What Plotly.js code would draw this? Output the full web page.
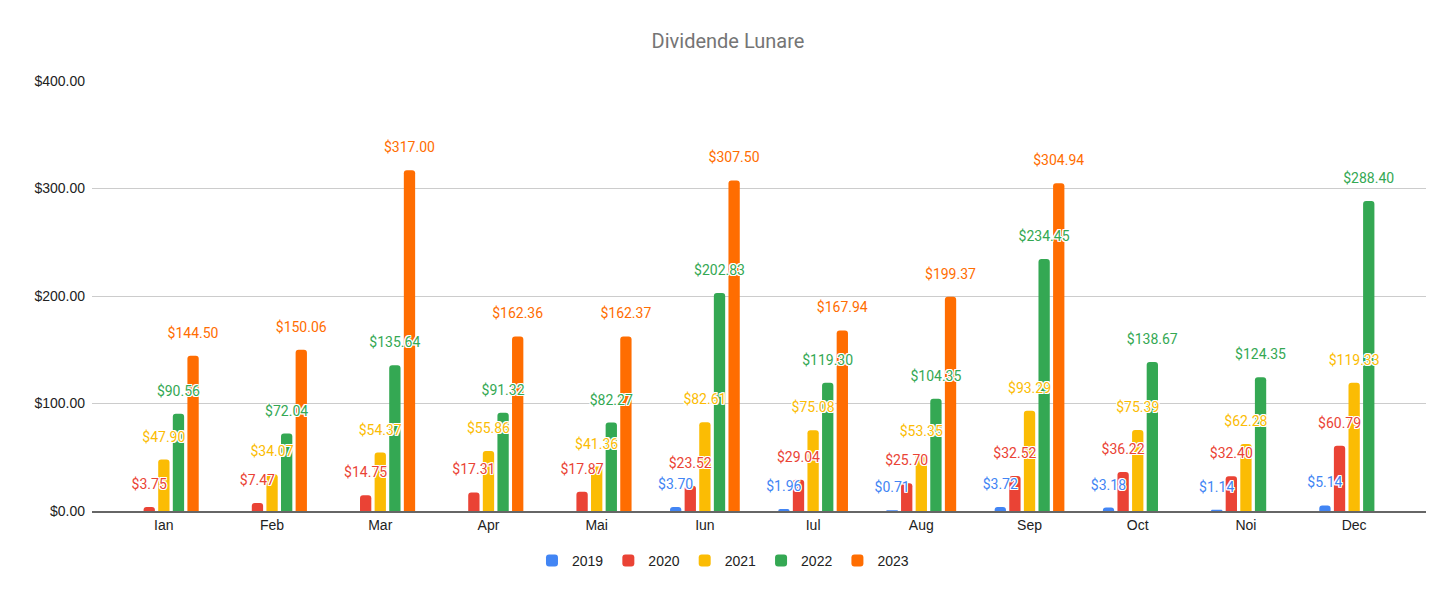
<!DOCTYPE html>
<html>
<head>
<meta charset="utf-8">
<script src="https://cdn.plot.ly/plotly-3.0.1.min.js"></script>
<style>
  html, body { margin: 0; padding: 0; background: #fff; }
  #chart { width: 1456px; height: 598px; }
</style>
</head>
<body>
<div id="chart"></div>
<script>
const months = ["Ian", "Feb", "Mar", "Apr", "Mai", "Iun", "Iul", "Aug", "Sep", "Oct", "Noi", "Dec"];
const years = ["2019", "2020", "2021", "2022", "2023"];

const y2019 = [null, null, null, null, null, 3.70, 1.96, 0.71, 3.72, 3.18, 1.14, 5.14];
const y2020 = [3.75, 7.47, 14.75, 17.31, 17.87, 23.52, 29.04, 25.70, 32.52, 36.22, 32.40, 60.79];
const y2021 = [47.90, 34.07, 54.37, 55.86, 41.36, 82.61, 75.08, 53.35, 93.29, 75.39, 62.28, 119.33];
const y2022 = [90.56, 72.04, 135.64, 91.32, 82.27, 202.83, 119.30, 104.35, 234.45, 138.67, 124.35, 288.40];
const y2023 = [144.50, 150.06, 317.00, 162.36, 162.37, 307.50, 167.94, 199.37, 304.94, null, null, null];

const series = [y2019, y2020, y2021, y2022, y2023];
const colors = ["#4285F4", "#EA4335", "#FBBC04", "#34A853", "#FF6D01"];

const halo = "-1px -1px 0 #fff, 1px -1px 0 #fff, -1px 1px 0 #fff, 1px 1px 0 #fff, 0 1px 0 #fff, 0 -1px 0 #fff, 1px 0 0 #fff, -1px 0 0 #fff";

// visible bars
const bars = series.map((vals, i) => ({
  type: 'bar',
  name: years[i],
  x: months,
  y: vals,
  marker: { color: colors[i] },
  hoverinfo: 'skip'
}));

// transparent copies on an overlaid axis, only for the value labels (drawn on top of all bars)
const labels = series.map((vals, i) => ({
  type: 'bar',
  name: years[i],
  x: months,
  y: vals,
  xaxis: 'x2',
  showlegend: false,
  hoverinfo: 'skip',
  marker: { color: 'rgba(0,0,0,0)' },
  texttemplate: '<span style="font-size:14px">%{y:$.2f}</span><br>\u00a0',
  textposition: 'outside',
  textangle: 0,
  constraintext: 'none',
  cliponaxis: false,
  textfont: { family: 'Roboto, sans-serif', size: 10, color: colors[i], shadow: halo }
}));

const pad = 0.164;

const layout = {
  width: 1456,
  height: 598,
  margin: { l: 92, r: 30, t: 81, b: 87 },
  paper_bgcolor: '#fff',
  plot_bgcolor: '#fff',
  barmode: 'group',
  bargap: 0.325,
  bargroupgap: 0.226,
  barcornerradius: 3,
  title: {
    text: 'Dividende Lunare',
    x: 0.5,
    xanchor: 'center',
    yref: 'container',
    y: 1 - 41 / 598,
    yanchor: 'middle',
    font: { family: 'Roboto, sans-serif', size: 20, color: '#757575' }
  },
  xaxis: {
    type: 'category',
    range: [-0.5 - pad, months.length - 0.5 + pad],
    showgrid: false,
    showline: true,
    linecolor: '#666',
    linewidth: 2,
    ticks: '',
    tickfont: { family: 'Liberation Sans, Arial, sans-serif', size: 14, color: '#222' },
    fixedrange: true
  },
  xaxis2: {
    type: 'category',
    overlaying: 'x',
    range: [-0.5 - pad, months.length - 0.5 + pad],
    showgrid: false,
    showticklabels: false,
    showline: false,
    ticks: ''
  },
  yaxis: {
    range: [0, 400],
    dtick: 100,
    tickformat: '$.2f',
    gridcolor: '#cccccc',
    gridwidth: 1,
    zeroline: false,
    ticks: '',
    ticklabelstandoff: 6,
    tickfont: { family: 'Liberation Sans, Arial, sans-serif', size: 14, color: '#222' },
    fixedrange: true
  },
  legend: {
    orientation: 'h',
    x: 0.473,
    xanchor: 'center',
    y: -0.116,
    yanchor: 'middle',
    font: { family: 'Liberation Sans, Arial, sans-serif', size: 14, color: '#222' },
    itemclick: false
  },
  showlegend: true
};

Plotly.newPlot('chart', bars.concat(labels), layout, { displayModeBar: false, staticPlot: true });
</script>
</body>
</html>
